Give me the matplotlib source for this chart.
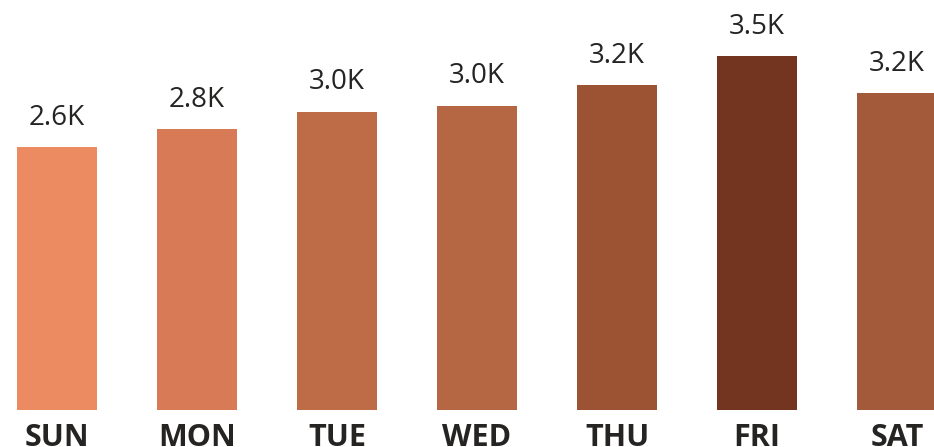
import matplotlib.pyplot as plt
import numpy as np

days = ['SUN', 'MON', 'TUE', 'WED', 'THU', 'FRI', 'SAT']
sales = [2.60, 2.78, 2.95, 3.01, 3.21, 3.50, 3.13]
labels = ['2.6K', '2.8K', '3.0K', '3.0K', '3.2K', '3.5K', '3.2K']
colors = ['#EC8B62', '#D77A55', '#BE6C48', '#B56643', '#9C5333', '#733420', '#A25A3B']

plt.rcParams['font.family'] = ['Open Sans', 'DejaVu Sans']

fig = plt.figure(figsize=(9.34, 4.47), dpi=100)
ax = fig.add_axes([0, 37 / 447, 1, 410 / 447])
x = np.arange(len(days))
bars = ax.bar(x, sales, width=80 / 140, color=colors)

for b, lab in zip(bars, labels):
    ax.annotate(lab, (b.get_x() + b.get_width() / 2, b.get_height()),
                xytext=(0, 11), textcoords='offset points',
                ha='center', va='bottom', fontsize=20, color='#252423')

for xi, d in zip(x, days):
    ax.annotate(d, (xi, 0), xytext=(0, -9), textcoords='offset points',
                ha='center', va='top', fontsize=22, fontweight='bold',
                color='#252423', annotation_clip=False)

ax.set_xlim(-57 / 140, (934 - 57) / 140)
ax.set_ylim(0, 410 / 101.14)
ax.axis('off')

plt.savefig('out.png', dpi=100)
